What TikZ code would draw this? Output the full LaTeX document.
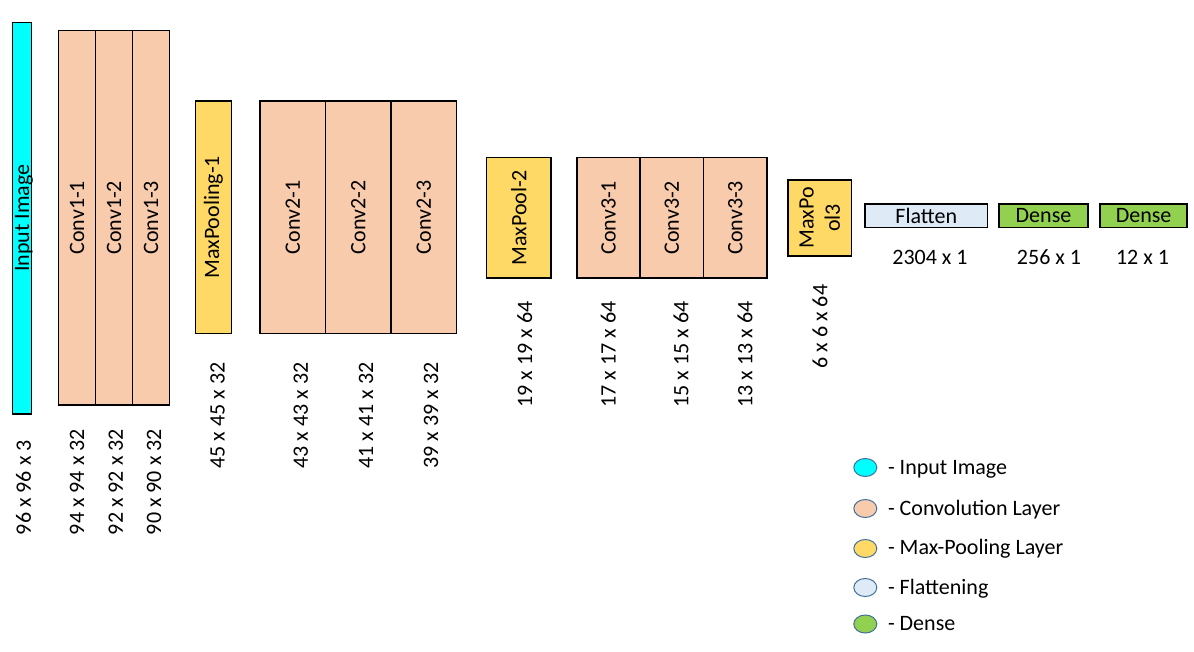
\documentclass[tikz,border=0pt]{standalone}
\usepackage{fontspec}
\setmainfont{Carlito}
\usetikzlibrary{shapes.geometric}
\definecolor{cyanin}{HTML}{00FFFF}
\definecolor{convc}{HTML}{F8CBAD}
\definecolor{poolc}{HTML}{FFD966}
\definecolor{flatc}{HTML}{DEEBF7}
\definecolor{densec}{HTML}{92D050}
\definecolor{legline}{HTML}{41719C}
\begin{document}
\begin{tikzpicture}[x=1pt,y=-1pt,
  every node/.style={font=\fontsize{22pt}{26.4pt}\selectfont, inner sep=0pt, outer sep=0pt},
  layer/.style={draw=black, line width=1.7pt, rotate=90},
  hbox/.style={draw=black, line width=1.7pt, minimum height=23.3pt},
  dimv/.style={rotate=90, anchor=west},
  leg/.style={ellipse, draw=legline, line width=1pt, minimum width=23pt, minimum height=18pt},
  legtext/.style={anchor=base west}]
\useasboundingbox (0,0) rectangle (1194,651);
% input
\node[layer, fill=cyanin, minimum width=391.6pt, minimum height=19pt] (in) at (22,218.3) {};
\node[rotate=90] (inT) at (24,218.3) {Input Image};
% conv1
\node[layer, fill=convc, minimum width=374.3pt, minimum height=36.97pt] (c11) at (77.03,217.7) {Conv1-1};
\node[layer, fill=convc, minimum width=374.3pt, minimum height=36.97pt] (c12) at (114,217.7) {Conv1-2};
\node[layer, fill=convc, minimum width=374.3pt, minimum height=36.97pt] (c13) at (150.97,217.7) {Conv1-3};
% maxpool1
\node[layer, fill=poolc, minimum width=232.3pt, minimum height=36.1pt] (p1) at (213.4,217.3) {MaxPooling-1};
% conv2
\node[layer, fill=convc, minimum width=232.3pt, minimum height=65.43pt] (c21) at (292.87,217.3) {Conv2-1};
\node[layer, fill=convc, minimum width=232.3pt, minimum height=65.43pt] (c22) at (358.3,217.3) {Conv2-2};
\node[layer, fill=convc, minimum width=232.3pt, minimum height=65.43pt] (c23) at (423.73,217.3) {Conv2-3};
% maxpool2
\node[layer, fill=poolc, minimum width=120.3pt, minimum height=64.6pt] (p2) at (518.85,217.7) {MaxPool-2};
% conv3
\node[layer, fill=convc, minimum width=120.3pt, minimum height=63.33pt] (c31) at (608.5,217.7) {Conv3-1};
\node[layer, fill=convc, minimum width=120.3pt, minimum height=63.33pt] (c32) at (671.85,217.7) {Conv3-2};
\node[layer, fill=convc, minimum width=120.3pt, minimum height=63.33pt] (c33) at (735.2,217.7) {Conv3-3};
% maxpool3
\node[layer, fill=poolc, minimum width=76pt, minimum height=63.3pt, align=center] (p3) at (819.8,217.85) {MaxPo\\ol3};
% flatten and dense
\node[hbox, fill=flatc, minimum width=122.3pt] (fl) at (926.3,215.8) {Flatten};
\node[hbox, fill=densec, minimum width=88.7pt] (de1) at (1043.5,215.8) {Dense};
\node[hbox, fill=densec, minimum width=87pt] (de2) at (1143.6,215.8) {Dense};
% dimension labels
\node[dimv] (d0) at (23.5,535) {96 x 96 x 3};
\node[dimv] (d11) at (77,535) {94 x 94 x 32};
\node[dimv] (d12) at (115.7,535) {92 x 92 x 32};
\node[dimv] (d13) at (154,535) {90 x 90 x 32};
\node[dimv] (dp1) at (217.5,468.3) {45 x 45 x 32};
\node[dimv] (d21) at (300.8,468.3) {43 x 43 x 32};
\node[dimv] (d22) at (366,468.3) {41 x 41 x 32};
\node[dimv] (d23) at (431,468.3) {39 x 39 x 32};
\node[dimv] (dp2) at (524.7,407.3) {19 x 19 x 64};
\node[dimv] (d31) at (608.3,407.3) {17 x 17 x 64};
\node[dimv] (d32) at (681,407.3) {15 x 15 x 64};
\node[dimv] (d33) at (745,407.3) {13 x 13 x 64};
\node[dimv] (dp3) at (820,368.3) {6 x 6 x 64};
\node (dfl) at (930,257.5) {2304 x 1};
\node (dde1) at (1049,257.5) {256 x 1};
\node (dde2) at (1142.5,257.5) {12 x 1};
% legend
\node[leg, fill=cyanin] (l1) at (865.3,467.5) {};
\node[leg, fill=convc] (l2) at (865.3,508.5) {};
\node[leg, fill=poolc] (l3) at (865.3,548.5) {};
\node[leg, fill=flatc] (l4) at (865.3,587.5) {};
\node[leg, fill=densec] (l5) at (865.3,624) {};
\node[legtext] (t1) at (888,474.5) {- Input Image};
\node[legtext] (t2) at (888,515.5) {- Convolution Layer};
\node[legtext] (t3) at (888,554.5) {- Max-Pooling Layer};
\node[legtext] (t4) at (888,594.5) {- Flattening};
\node[legtext] (t5) at (888,630) {- Dense};
\end{tikzpicture}
\end{document}
